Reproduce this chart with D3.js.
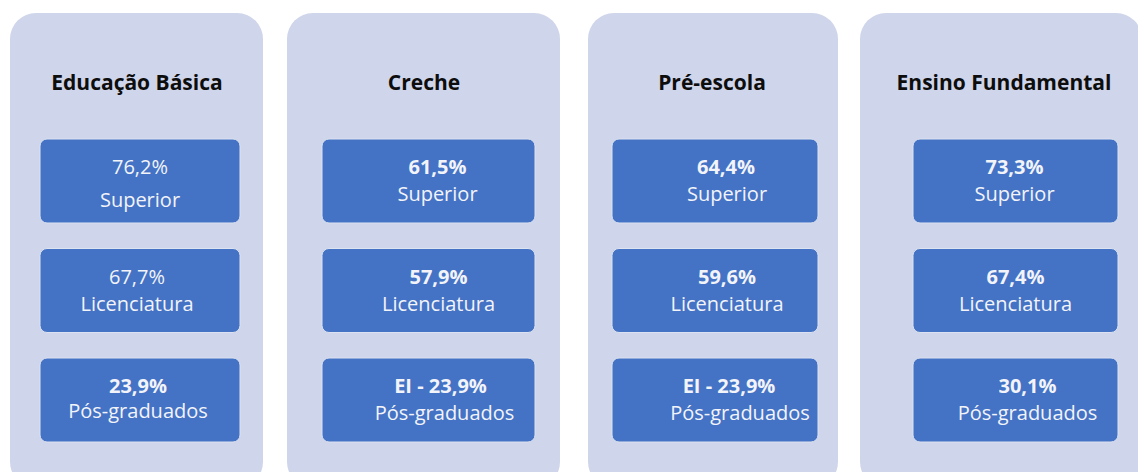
<!DOCTYPE html>
<html>
<head>
    <meta charset="utf-8">
    <script src="https://cdnjs.cloudflare.com/ajax/libs/d3/7.8.5/d3.min.js"></script>
    <style>
        body { margin: 0; background-color: #fff; }
        svg { display: block; font-family: 'Open Sans', sans-serif; }
    </style>
</head>
<body>
    <svg width="1138" height="472"></svg>
    <script>
        // data
        var categories = ["Educação Básica", "Creche", "Pré-escola", "Ensino Fundamental"];
        var levels = ["Superior", "Licenciatura", "Pós-graduados"];
        var superior = [76.2, 61.5, 64.4, 73.3];
        var licenciatura = [67.7, 57.9, 59.6, 67.4];
        var posGraduados = [23.9, 23.9, 23.9, 30.1];
        var posPrefix = ["", "EI - ", "EI - ", ""];

        // layout (infographic panels are not evenly spaced in the original)
        var panelX = [10, 287, 588, 860],
            panelW = [253, 273, 250, 282],
            boxX = [40, 322, 612, 913],
            boxW = [200, 213, 206, 205],
            titleX = [137, 424, 712, 1004];
        // small text shifts [value dx, label dx, label dy] per panel and row
        var shift = [
            [[0, 0, 6], [-3, -3, 0], [-2, -2, -2]],
            [[9, 9, 0], [10, 10, 0], [12, 16, 0]],
            [[11, 12, 0], [12, 12, 0], [14, 25, 0]],
            [[-1, -1, 0], [0, 0, 0], [12, 12, 0]]
        ];
        var boldValue = [
            [false, false, true],
            [true, true, true],
            [true, true, true],
            [true, true, true]
        ];

        var br = d3.formatLocale({decimal: ",", thousands: ".", grouping: [3], currency: ["R$", ""]});
        var pct = function(v) { return br.format(".1f")(v) + "%"; };

        var svg = d3.select("svg");

        var y = d3.scaleBand().domain(levels).range([139, 442]).paddingInner(0.233);

        var panels = categories.map(function(c, i) {
            return {
                name: c, i: i,
                rows: [
                    {level: levels[0], text: pct(superior[i])},
                    {level: levels[1], text: pct(licenciatura[i])},
                    {level: levels[2], text: posPrefix[i] + pct(posGraduados[i])}
                ]
            };
        });

        var g = svg.selectAll(".panel")
            .data(panels)
            .enter()
            .append("g")
            .attr("class", "panel");

        g.append("rect")
            .attr("x", function(d) { return panelX[d.i]; })
            .attr("y", 13)
            .attr("width", function(d) { return panelW[d.i]; })
            .attr("height", 475)
            .attr("rx", 26)
            .style("fill", "#cfd5ea");

        g.append("text")
            .attr("x", function(d) { return titleX[d.i]; })
            .attr("y", 90)
            .attr("text-anchor", "middle")
            .style("font-size", "21px")
            .style("font-weight", "bold")
            .style("fill", "#0d0d0d")
            .text(function(d) { return d.name; });

        var box = g.selectAll(".box")
            .data(function(d) { return d.rows.map(function(r, j) { return Object.assign({p: d.i, j: j}, r); }); })
            .enter()
            .append("g")
            .attr("class", "box");

        box.append("rect")
            .attr("x", function(d) { return boxX[d.p]; })
            .attr("y", function(d) { return y(d.level); })
            .attr("width", function(d) { return boxW[d.p]; })
            .attr("height", y.bandwidth())
            .attr("rx", 7)
            .style("fill", "#4472c4")
            .style("stroke", "#dde3f1")
            .style("stroke-width", 1);

        box.append("text")
            .attr("x", function(d) { return boxX[d.p] + boxW[d.p] / 2 + shift[d.p][d.j][0]; })
            .attr("y", function(d) { return y(d.level) + 35; })
            .attr("text-anchor", "middle")
            .style("font-size", "20px")
            .style("font-weight", function(d) { return boldValue[d.p][d.j] ? "bold" : "normal"; })
            .style("fill", "#f2f4fa")
            .text(function(d) { return d.text; });

        box.append("text")
            .attr("x", function(d) { return boxX[d.p] + boxW[d.p] / 2 + shift[d.p][d.j][1]; })
            .attr("y", function(d) { return y(d.level) + 62 + shift[d.p][d.j][2]; })
            .attr("text-anchor", "middle")
            .style("font-size", "20px")
            .style("fill", "#f2f4fa")
            .text(function(d) { return d.level; });
    </script>
</body>
</html>
